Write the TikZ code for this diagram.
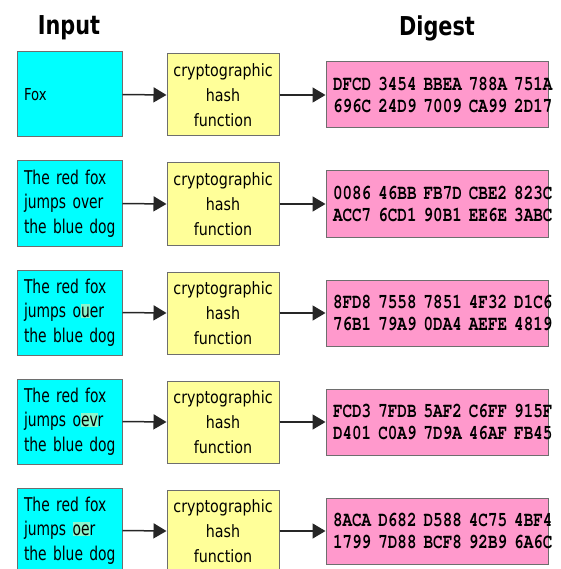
\documentclass[tikz,border=0pt]{standalone}
\usepackage{fontspec}
\setmainfont{DejaVu Sans}
\newfontfamily\inpf{DejaVu Sans}[FakeStretch=0.73,WordSpace=0.75]
\newfontfamily\foxf{DejaVu Sans}[FakeStretch=0.8]
\newfontfamily\hashf{DejaVu Sans}[FakeStretch=0.84]
\newfontfamily\titlef{DejaVu Sans}[FakeStretch=0.8]
\newfontface\hexfont{texgyrecursor-bold.otf}[FakeStretch=0.76]
\usetikzlibrary{arrows.meta}
\definecolor{inbox}{RGB}{0,255,255}
\definecolor{hashbox}{RGB}{255,255,153}
\definecolor{digbox}{RGB}{255,153,204}
\definecolor{hlc}{RGB}{140,245,205}
\definecolor{edge}{RGB}{110,110,110}
\newcommand\hlt[1]{{\setlength{\fboxsep}{0pt}\colorbox{hlc}{\rule{0pt}{1.3ex}#1}}}
\begin{document}
\begin{tikzpicture}[x=1pt,y=-1pt,
  inbox/.style={draw=edge,line width=1pt,fill=inbox,minimum width=105pt,minimum height=85pt,
    text width=91pt,inner xsep=7pt,align=left,font=\inpf\fontsize{19}{24.5}\selectfont},
  hashbox/.style={draw=edge,line width=1pt,fill=hashbox,minimum width=112pt,minimum height=82pt,
    inner sep=0pt,align=center,font=\hashf\fontsize{17}{25}\selectfont},
  digbox/.style={draw=edge,line width=1pt,fill=digbox,minimum width=222pt,minimum height=66pt,
    text width=208pt,inner xsep=7pt,align=left,font=\hexfont\fontsize{21}{22.5}\selectfont},
  title/.style={font=\titlef\bfseries\fontsize{26}{28}\selectfont,inner sep=0pt},
  flow/.style={draw=black!85,line width=1.5pt,-{Triangle[length=13pt,width=15pt]}}]
\useasboundingbox (0,0) rectangle (560,569);
\clip (0,0) rectangle (560,569);
\node[title] (tin) at (69,28) {Input};
\node[title] (tdig) at (437,28) {Digest};
\foreach \i/\txt/\hA/\hB in {
  0/{\foxf\fontsize{16.5}{20}\selectfont Fox}/{DFCD 3454 BBEA 788A 751A}/{696C 24D9 7009 CA99 2D17},
  1/{\mbox{The red fox}\\\mbox{jumps over}\\\mbox{the blue dog}}/{0086 46BB FB7D CBE2 823C}/{ACC7 6CD1 90B1 EE6E 3ABC},
  2/{\mbox{The red fox}\\\mbox{jumps o\hlt{u}er}\\\mbox{the blue dog}}/{8FD8 7558 7851 4F32 D1C6}/{76B1 79A9 0DA4 AEFE 4819},
  3/{\mbox{The red fox}\\\mbox{jumps o\hlt{ev}r}\\\mbox{the blue dog}}/{FCD3 7FDB 5AF2 C6FF 915F}/{D401 C0A9 7D9A 46AF FB45},
  4/{\mbox{The red fox}\\\mbox{jumps \hlt{oe}r}\\\mbox{the blue dog}}/{8ACA D682 D588 4C75 4BF4}/{1799 7D88 BCF8 92B9 6A6C}}{
  \node[inbox] (in\i) at (69.5,94.5+109*\i) {\txt};
  \node[hashbox] (h\i) at (223,95+109*\i) {cryptographic\\hash\\function};
  \node[digbox] (d\i) at (437,95+109*\i) {\mbox{\hA}\\\mbox{\hB}};
  \draw[flow] (in\i.east) -- (h\i.west);
  \draw[flow] (h\i.east) -- (d\i.west);
}
\end{tikzpicture}
\end{document}
